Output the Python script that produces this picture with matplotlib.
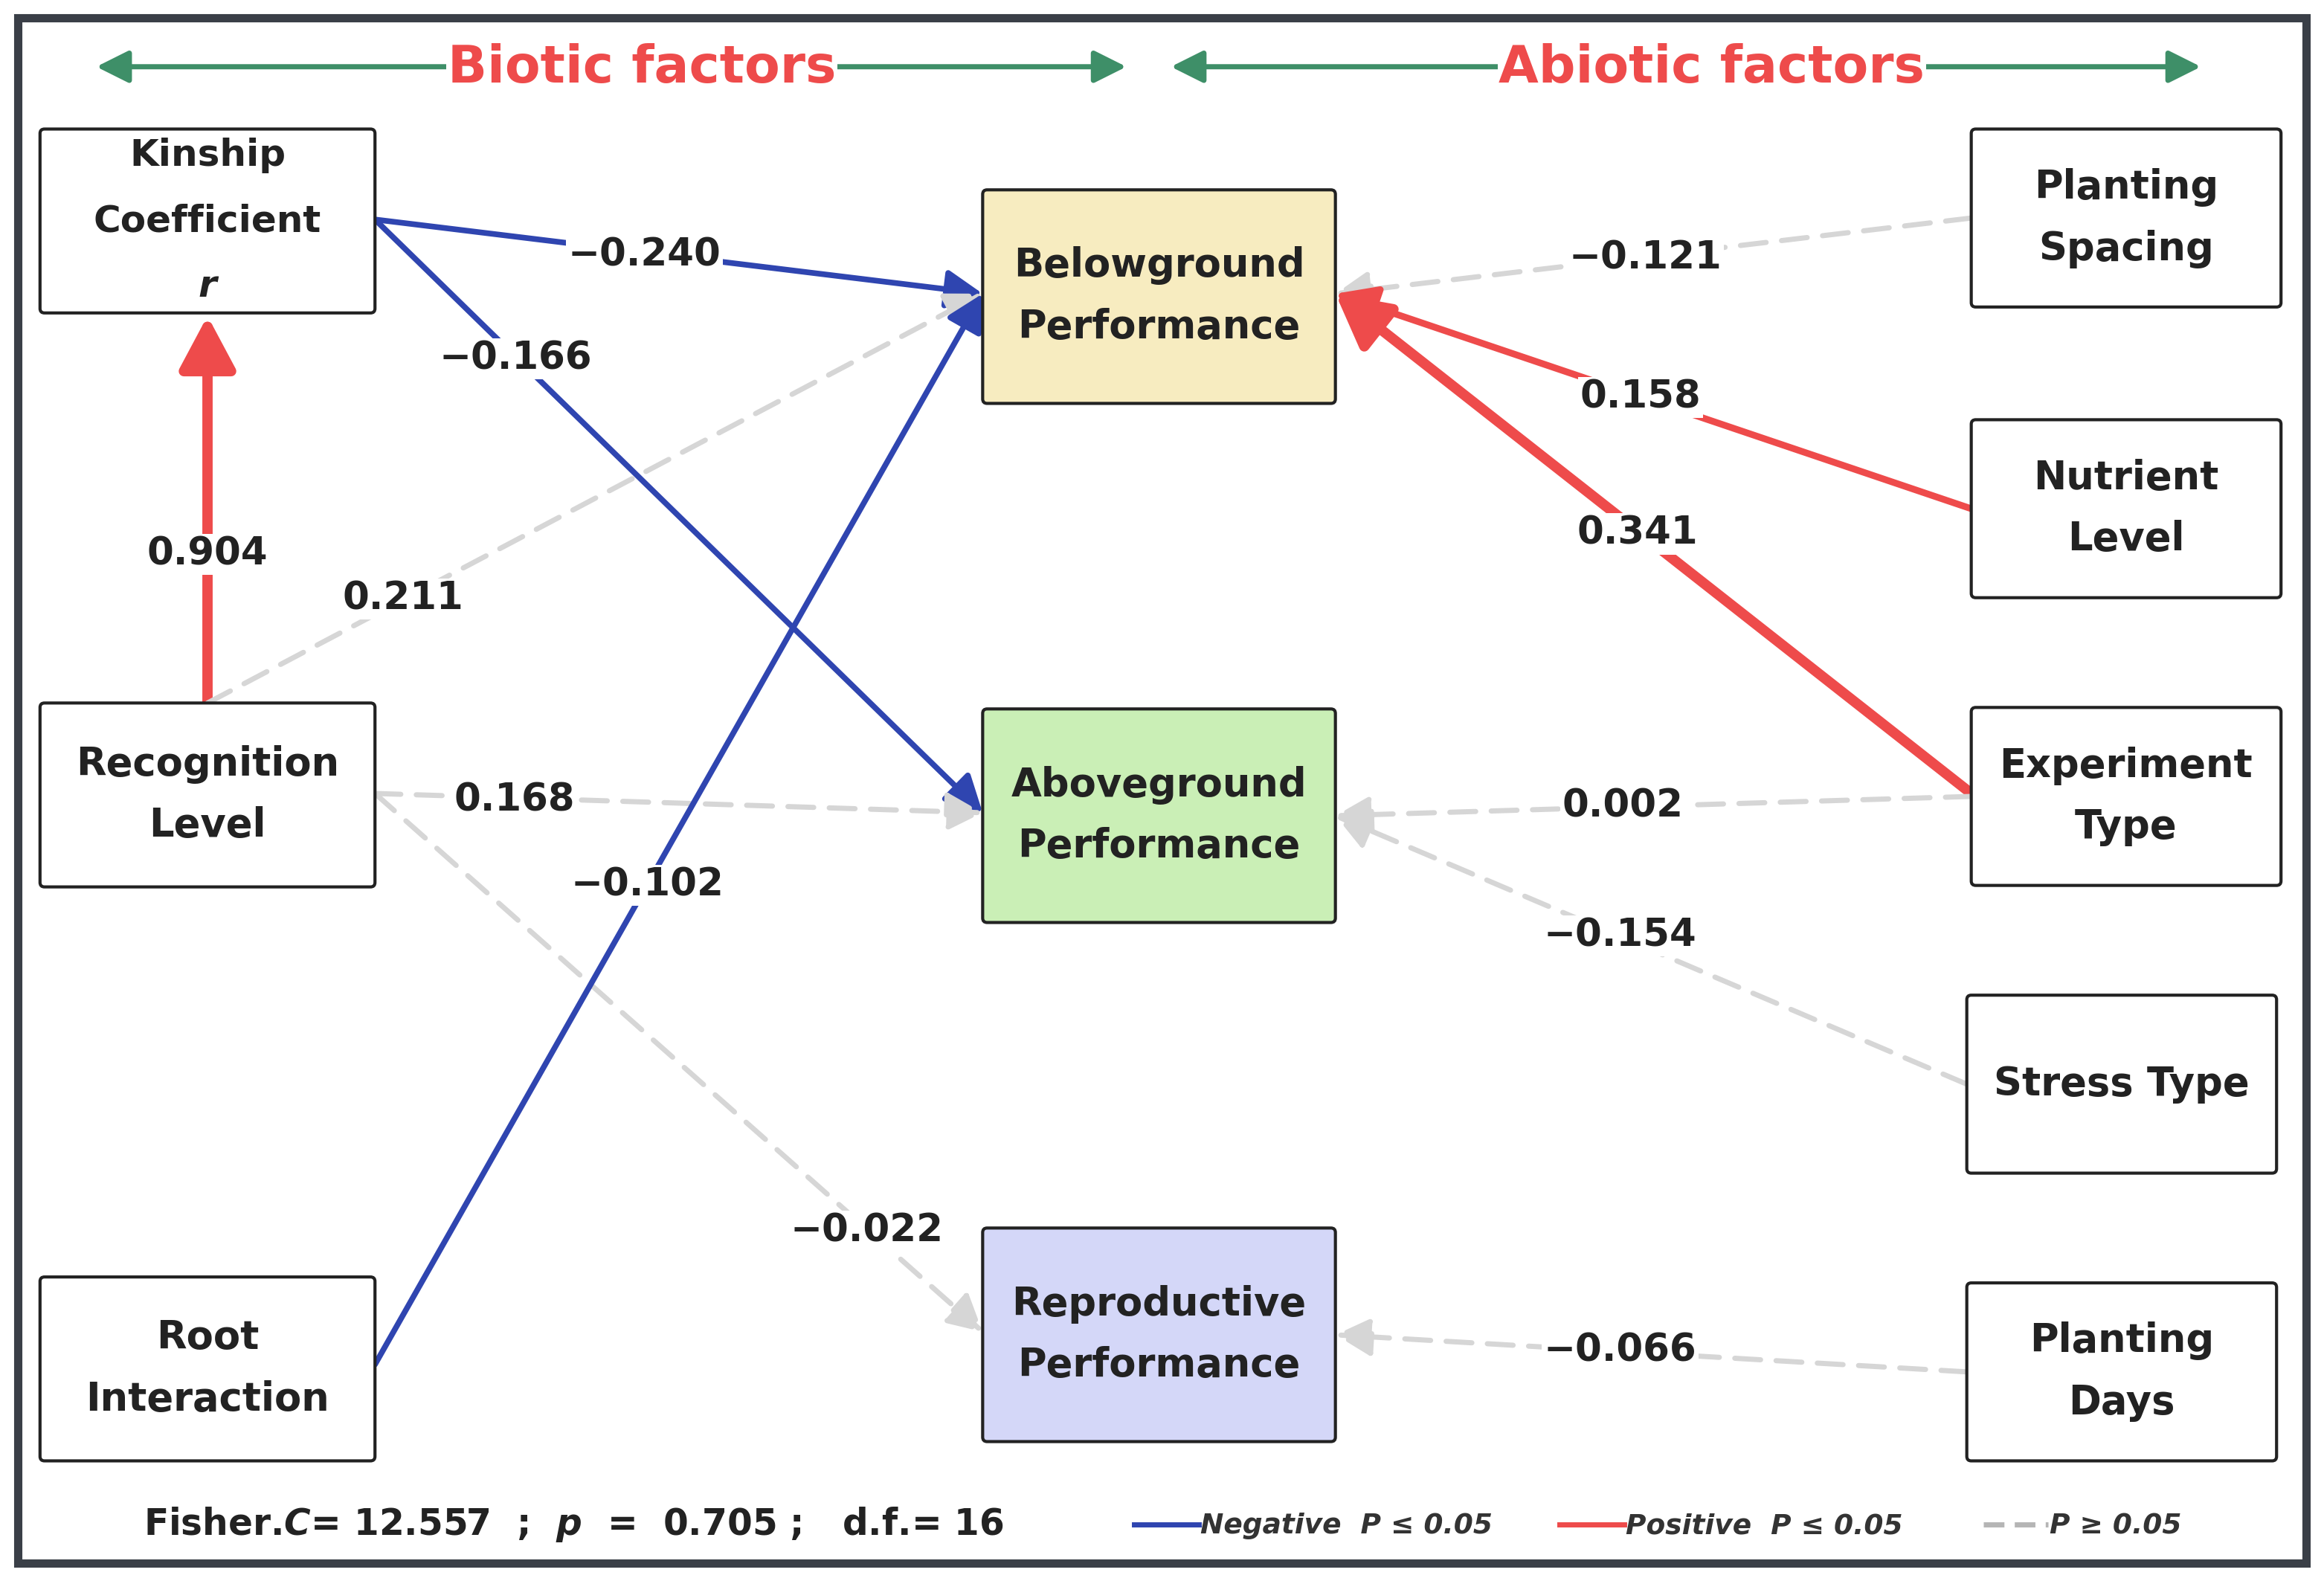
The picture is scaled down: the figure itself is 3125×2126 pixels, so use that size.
import matplotlib
matplotlib.use("Agg")
import matplotlib.pyplot as plt
from matplotlib.patches import FancyArrowPatch, Rectangle, FancyBboxPatch

# ---- data ----
node_names = ["Kinship\nCoefficient", "Recognition\nLevel", "Root\nInteraction",
              "Belowground\nPerformance", "Aboveground\nPerformance", "Reproductive\nPerformance",
              "Planting\nSpacing", "Nutrient\nLevel", "Experiment\nType", "Stress Type", "Planting\nDays"]
edge_src = [0, 0, 1, 1, 1, 1, 2, 6, 7, 8, 8, 9, 10]
edge_dst = [3, 4, 0, 3, 4, 5, 3, 3, 3, 3, 4, 4, 5]
coefs = [-0.240, -0.166, 0.904, 0.211, 0.168, -0.022, -0.102, -0.121, 0.158, 0.341, 0.002, -0.154, -0.066]
significant = [True, True, True, False, False, False, True, False, True, True, False, False, False]
fisher_c, p_value, dof = 12.557, 0.705, 16

# ---- layout (reference pixel space 1568x1066) ----
boxes = {0: (27, 87, 226, 124), 1: (27, 474, 226, 124), 2: (27, 861, 226, 124),
         3: (663, 128, 238, 144), 4: (663, 478, 238, 144), 5: (663, 828, 238, 144),
         6: (1330, 87, 209, 120), 7: (1330, 283, 209, 120), 8: (1330, 477, 209, 120),
         9: (1327, 671, 209, 120), 10: (1327, 865, 209, 120)}
fills = {3: "#f7ecc0", 4: "#caefb6", 5: "#d4d7f8"}
pts = [((253, 148), (663, 198)), ((253, 148), (663, 548)), ((140, 474), (140, 213)),
       ((140, 474), (663, 198)), ((253, 535), (663, 548)), ((253, 535), (663, 898)),
       ((253, 920), (663, 198)), ((1330, 147), (901, 198)), ((1330, 343), (901, 198)),
       ((1330, 535), (901, 198)), ((1330, 537), (901, 550)), ((1327, 731), (901, 550)),
       ((1327, 925), (901, 900))]
lab_pos = [(435, 172), (348, 242), (140, 374), (272, 404), (347, 540), (585, 830), (437, 597),
           (1110, 174), (1107, 268), (1105, 360), (1095, 544), (1093, 631), (1093, 911)]
widths = [5.5, 5.5, 10, 5, 5, 5, 5.5, 5, 6.5, 10, 5, 5, 5]
heads = [0.9, 0.9, 1.3, 0.9, 0.9, 0.9, 0.9, 0.9, 1.0, 1.3, 0.9, 0.9, 0.9]

BLUE, RED, GRAY, GREEN = "#2f45b0", "#ee4b4b", "#d6d6d6", "#3e8f68"
fig = plt.figure(figsize=(31.25, 21.26), dpi=100)
ax = fig.add_axes([0, 0, 1, 1])
ax.set_xlim(0, 1568); ax.set_ylim(1066, 0); ax.axis("off")
ax.add_patch(Rectangle((12, 12), 1544, 1042, fill=False, ec="#3a3f47", lw=8))

for i, (x, y, w, h) in boxes.items():
    ax.add_patch(FancyBboxPatch((x, y), w, h, boxstyle="round,pad=0,rounding_size=3",
                                fc=fills.get(i, "white"), ec="#222222", lw=3, zorder=3))
    if i == 0:
        ax.text(x + w / 2, 105, "Kinship", ha="center", va="center", fontsize=36,
                fontweight="bold", color="#222222", zorder=4)
        ax.text(x + w / 2, 149, "Coefficient", ha="center", va="center", fontsize=36,
                fontweight="bold", color="#222222", zorder=4)
        ax.text(x + w / 2, 193, "r", ha="center", va="center", fontsize=36, fontweight="bold",
                style="italic", color="#222222", zorder=4)
        continue
    ax.text(x + w / 2, y + h / 2, node_names[i], ha="center", va="center", fontsize=38,
            fontweight="bold", color="#222222", linespacing=1.75, zorder=4)

for k in range(len(coefs)):
    (x0, y0), (x1, y1) = pts[k]
    if significant[k]:
        col = BLUE if coefs[k] < 0 else RED
        ls = "-"
    else:
        col, ls = GRAY, (0, (5, 3))
    hs = heads[k]
    a = FancyArrowPatch((x0, y0), (x1, y1),
                        arrowstyle=f"-|>,head_length={1.5*hs},head_width={0.8*hs}",
                        mutation_scale=22, color=col, lw=widths[k], linestyle=ls,
                        shrinkA=0, shrinkB=0, zorder=2)
    ax.add_patch(a)
    txt = f"{coefs[k]:.3f}".replace("-", "\u2212")
    ax.text(*lab_pos[k], txt, ha="center", va="center", fontsize=37, fontweight="bold",
            color="#222222", zorder=5, bbox=dict(fc="white", ec="none", pad=2))

for (xa, xb, xc, t) in [(65, 760, 433, "Biotic factors"), (790, 1485, 1155, "Abiotic factors")]:
    for xe in (xa, xb):
        ax.add_patch(FancyArrowPatch((xc, 45), (xe, 45), arrowstyle="-|>,head_length=1.2,head_width=0.6",
                                     mutation_scale=22, color=GREEN, lw=5, shrinkA=0, shrinkB=0))
    ax.text(xc, 46, t, ha="center", va="center", fontsize=50, fontweight="bold", color=RED,
            bbox=dict(fc="white", ec="none", pad=1), zorder=5)

ax.text(97, 1028, f"Fisher.$\\boldsymbol{{C}}$= {fisher_c}  ;  $\\boldsymbol{{p}}$  =  {p_value} ;   d.f.= {dof}",
        ha="left", va="center", fontsize=35, fontweight="bold", color="#222222")

for x0, col, ls, t in [(765, BLUE, "-", "Negative  P \u2264 0.05"), (1052, RED, "-", "Positive  P \u2264 0.05"),
                       (1338, "#b5b5b5", (0, (4, 2)), "P \u2265 0.05")]:
    ax.plot([x0, x0 + 44], [1028, 1028], color=col, lw=5, ls=ls)
    ax.text(x0 + 45, 1029, t, ha="left", va="center", fontsize=27, fontweight="bold",
            style="italic", color="#333333")

fig.savefig("out.png", dpi=100)
